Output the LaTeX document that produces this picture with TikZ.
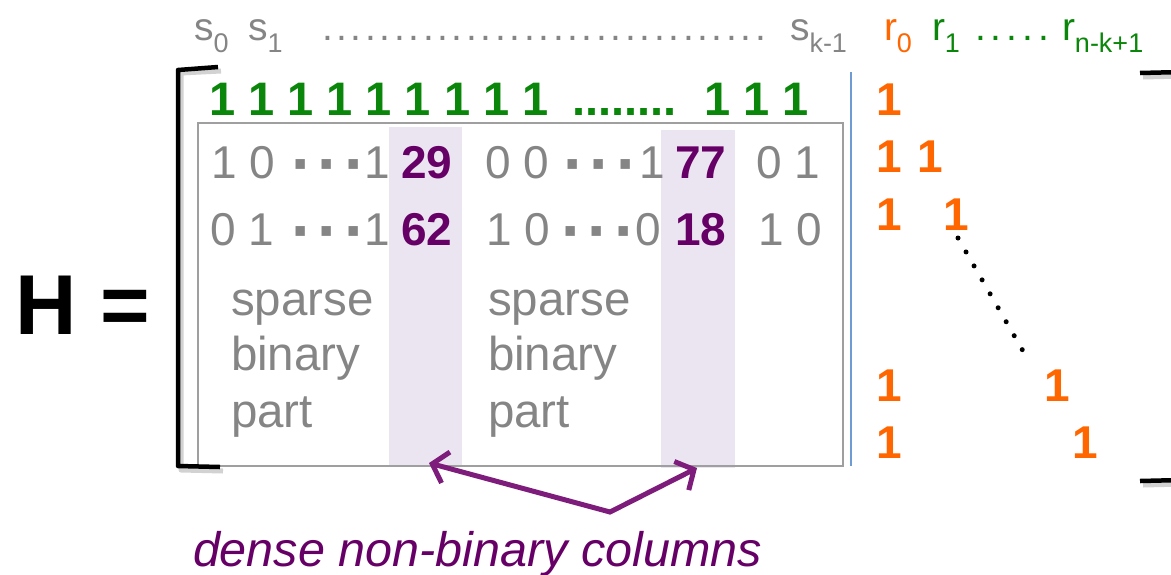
\documentclass[tikz,border=0pt]{standalone}
\usepackage{fontspec}
\setmainfont{Liberation Sans}
\usetikzlibrary{arrows.meta}
\definecolor{tgray}{HTML}{858585}
\definecolor{tgreen}{HTML}{0A870A}
\definecolor{torange}{HTML}{FF6600}
\definecolor{npurple}{HTML}{660066}
\definecolor{apurple}{HTML}{7D1C7B}
\definecolor{lav}{HTML}{EAE5F0}
\definecolor{bline}{HTML}{6F9BD5}
\newcommand\sbs[1]{\raisebox{-12pt}{\fontsize{27}{30}\selectfont #1}}
\newcommand\mdots{\raisebox{-8pt}{\bfseries\fontsize{66}{66}\selectfont ·\hspace{5pt}·\hspace{5pt}·}}
\begin{document}
\begin{tikzpicture}[x=1pt,y=-1pt,
  txt/.style={inner sep=0pt, outer sep=0pt, anchor=base west},
  gr/.style={txt, text=tgray, font=\fontsize{46}{50}\selectfont},
  pb/.style={txt, text=npurple, font=\bfseries\fontsize{46}{50}\selectfont},
  gb/.style={txt, text=tgreen, font=\bfseries\fontsize{47}{50}\selectfont},
  ob/.style={txt, text=torange, font=\bfseries\fontsize{46}{50}\selectfont},
  lab/.style={txt, font=\fontsize{39}{42}\selectfont},
  sp/.style={txt, text=tgray, font=\fontsize{47.5}{56}\selectfont},
  brk/.style={line width=4.5pt, line join=round},
  shd/.style={line width=5pt, gray!35, line join=round},
  arr/.style={apurple, line width=5pt, line cap=round, -{Straight Barb[length=14pt,width=32pt,line width=5pt]}}
]
\useasboundingbox (0,0) rectangle (1171,574);
% shaded columns
\fill[lav] (389,127) rectangle (462,466);
\fill[lav] (661,130) rectangle (735,468);
% gray box
\draw[gray!75, line width=2pt] (198,123) rectangle (843,466);
% blue separator
\draw[bline, line width=1.5pt] (851,72) -- (851,466);
% brackets
\draw[shd] (221,71) -- (181,73) -- (181,470) -- (223,471);
\draw[brk] (218,67) -- (178,70) -- (178,466) -- (220,467);
\draw[shd] (1143,77) -- (1185,76) -- (1185,484) -- (1143,485);
\draw[brk] (1140,73) -- (1182,72) -- (1182,480) -- (1140,481);
% H =
\node[txt, font=\bfseries\fontsize{85}{90}\selectfont] (H) at (16,334) {H =};
% column labels
\node[lab, text=tgray] (s0) at (194,40) {s\sbs{0}};
\node[lab, text=tgray] (s1) at (248,40) {s\sbs{1}};
\node[lab, text=tgray] (sd) at (322,40) {\foreach \i in {1,...,31}{.\kern3.6pt}};
\node[lab, text=tgray] (sk) at (790,40) {s\sbs{k-1}};
\node[lab, text=torange] (r0) at (884,40) {r\sbs{0}};
\node[lab, text=tgreen] (r1) at (932,40) {r\sbs{1}};
\node[lab, text=tgreen] (rd) at (975,40) {\foreach \i in {1,...,5}{.\kern5pt}};
\node[lab, text=tgreen] (rn) at (1062,40) {r\sbs{n-k+1}};
% green row
\node[gb] (g1) at (209,115) {1 1 1 1 1 1 1 1 1};
\node[gb] (g2) at (572,115) {........};
\node[gb] (g3) at (704,115) {1 1 1};
% row 1
\node[gr] (a1) at (211,178) {1 0};
\node[gr] (a2) at (291,178) {\mdots};
\node[gr] (a3) at (364,178) {1};
\node[pb] (a4) at (401,178) {29};
\node[gr] (a5) at (485,178) {0 0};
\node[gr] (a6) at (563,178) {\mdots};
\node[gr] (a7) at (639,178) {1};
\node[pb] (a8) at (675,178) {77};
\node[gr] (a9) at (756,178) {0 1};
% row 2
\node[gr] (b1) at (210,245) {0 1};
\node[gr] (b2) at (291,245) {\mdots};
\node[gr] (b3) at (364,245) {1};
\node[pb] (b4) at (401,245) {62};
\node[gr] (b5) at (486,245) {1 0};
\node[gr] (b6) at (561,245) {\mdots};
\node[gr] (b7) at (635,245) {0};
\node[pb] (b8) at (675,245) {18};
\node[gr] (b9) at (758,245) {1 0};
% sparse binary part
\node[sp] (p1) at (231,315) {sparse};
\node[sp] (p2) at (231,370) {binary};
\node[sp] (p3) at (231,427) {part};
\node[sp] (q1) at (488,315) {sparse};
\node[sp] (q2) at (488,370) {binary};
\node[sp] (q3) at (488,427) {part};
% orange identity part
\node[ob] (o1) at (876,115) {1};
\node[ob] (o2) at (876,172) {1};
\node[ob] (o3) at (876,230) {1};
\node[ob] (o4) at (876,401) {1};
\node[ob] (o5) at (876,458) {1};
\node[ob] (e2) at (917,172) {1};
\node[ob] (e3) at (943,230) {1};
\node[ob] (e4) at (1044,401) {1};
\node[ob] (e5) at (1072,458) {1};
\coordinate (d1) at (958,238);
\coordinate (d2) at (1023,351);
\draw[line width=5pt, line cap=round, dash pattern=on 0pt off 16.1pt] (d1) -- (d2);
% arrows
\coordinate (j) at (610,512);
\coordinate (t1) at (429,463);
\coordinate (t2) at (697,468);
\draw[arr] (j) -- (t1);
\draw[arr] (j) -- (t2);
\node[txt, text=npurple, font=\itshape\fontsize{48.5}{50}\selectfont] (dn) at (193,566) {dense non-binary columns};
\end{tikzpicture}
\end{document}
